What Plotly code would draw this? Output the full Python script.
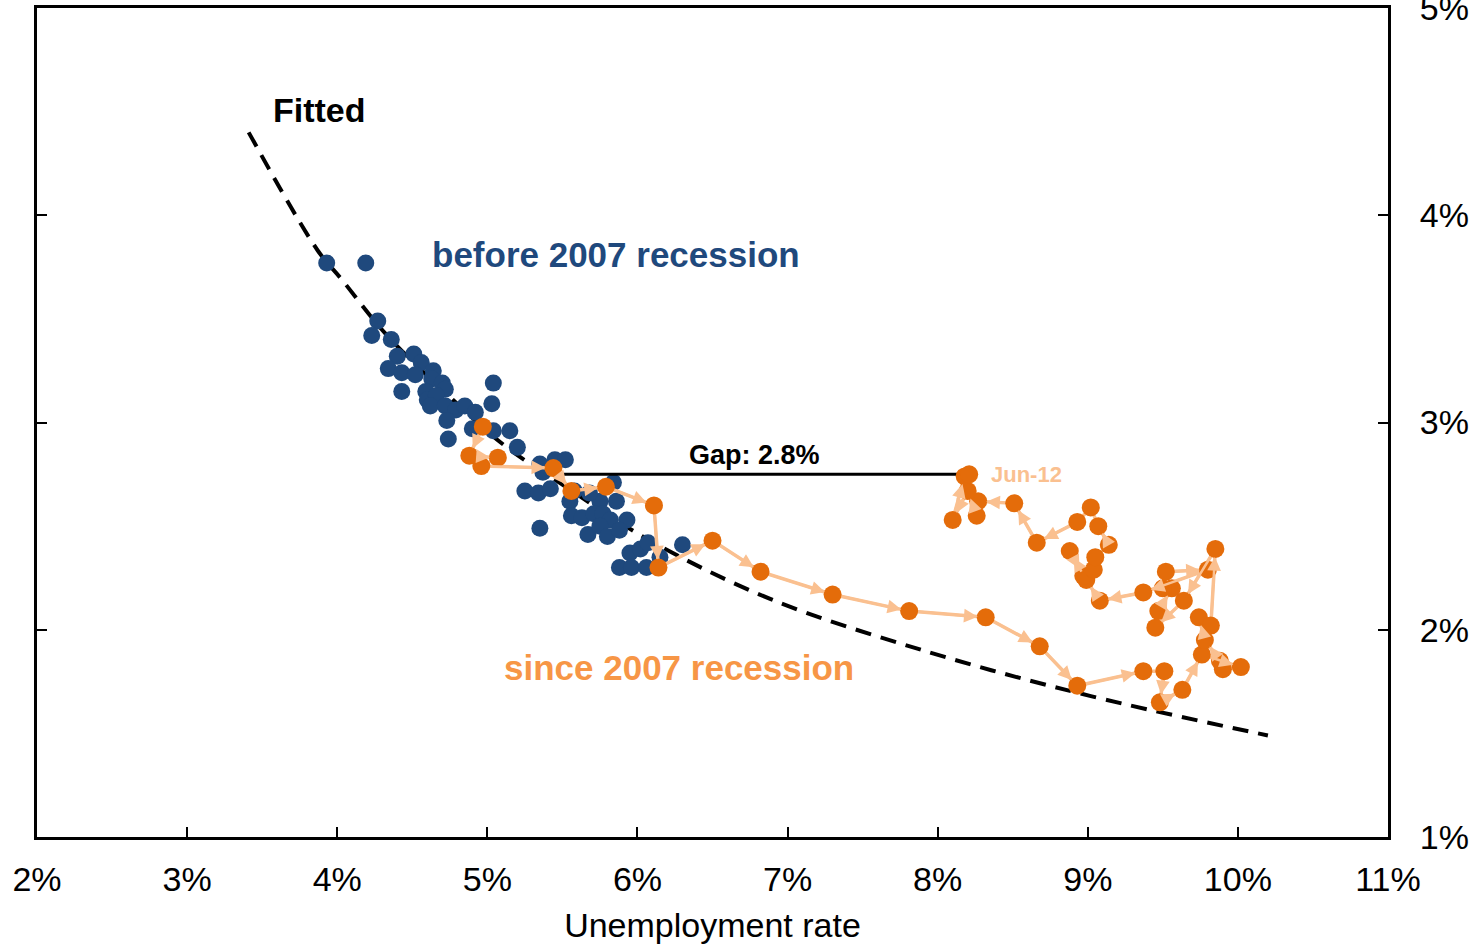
import plotly.graph_objects as go

# ---------------- data ----------------
# pre-2007 observations: unemployment rate (%), y value (%)
before_x = [3.93, 4.19, 4.27, 4.23, 4.36, 4.40, 4.51, 4.56, 4.34, 4.43, 4.64, 4.52, 4.63, 4.70,
            4.43, 4.59, 4.72, 4.60, 4.66, 4.62, 4.72, 4.79, 4.85, 4.92, 5.04, 5.03, 4.73, 4.74,
            4.90, 5.04, 5.15, 5.20, 5.35, 5.45, 5.52, 5.37, 5.25, 5.34, 5.42, 5.35, 5.58, 5.55,
            5.84, 5.86, 5.75, 5.68, 5.56, 5.63, 5.71, 5.77, 5.82, 5.93, 5.67, 5.75, 5.80, 5.88,
            5.95, 6.02, 6.07, 5.88, 5.96, 6.06, 6.15, 6.30]
before_y = [3.77, 3.77, 3.49, 3.42, 3.40, 3.32, 3.33, 3.29, 3.26, 3.24, 3.25, 3.23, 3.21, 3.19,
            3.15, 3.15, 3.16, 3.11, 3.13, 3.08, 3.08, 3.06, 3.08, 3.05, 3.19, 3.09, 3.01, 2.92,
            2.97, 2.96, 2.96, 2.88, 2.80, 2.82, 2.82, 2.76, 2.67, 2.66, 2.68, 2.49, 2.67, 2.62,
            2.71, 2.62, 2.62, 2.66, 2.55, 2.54, 2.56, 2.56, 2.53, 2.53, 2.46, 2.50, 2.45, 2.48,
            2.37, 2.39, 2.42, 2.30, 2.30, 2.30, 2.35, 2.41]

# since the 2007 recession, monthly Jan-08 .. Jun-12 (chronological)
since_x = [4.97, 4.88, 5.07, 4.96, 5.44, 5.56, 5.79, 6.11, 6.14, 6.50, 6.82, 7.30,
           7.81, 8.32, 8.68, 8.93, 9.37, 9.51, 9.48, 9.63, 9.76, 10.02, 9.90, 9.88,
           9.78, 9.74, 9.82, 9.85, 9.64, 9.45, 9.47, 9.56, 9.50, 9.52, 9.80, 9.37,
           9.08, 8.99, 8.88, 8.97, 9.04, 9.05, 9.14, 9.07, 9.02, 8.93, 8.66, 8.51,
           8.27, 8.26, 8.20, 8.10, 8.18, 8.21]
since_y = [2.98, 2.84, 2.83, 2.79, 2.78, 2.67, 2.69, 2.60, 2.30, 2.43, 2.28, 2.17,
           2.09, 2.06, 1.92, 1.73, 1.80, 1.80, 1.65, 1.71, 1.88, 1.82, 1.81, 1.85,
           1.95, 2.06, 2.02, 2.39, 2.14, 2.01, 2.09, 2.20, 2.20, 2.28, 2.29, 2.18,
           2.14, 2.24, 2.38, 2.26, 2.29, 2.35, 2.41, 2.50, 2.59, 2.52, 2.42, 2.61,
           2.62, 2.55, 2.67, 2.53, 2.74, 2.75]

# fitted curve, points
fit_x = [3.41, 3.87, 4.03, 4.32, 4.77, 5.13, 5.48, 6.06, 6.88, 7.95, 9.02, 10.20]
fit_y = [4.40, 3.83, 3.69, 3.43, 3.11, 2.88, 2.71, 2.44, 2.15, 1.89, 1.68, 1.49]

# gap line
gap_x = [5.44, 8.21]
gap_y = [2.75, 2.75]

x_ticks = [2, 3, 4, 5, 6, 7, 8, 9, 10, 11]
x_tick_labels = ["2%", "3%", "4%", "5%", "6%", "7%", "8%", "9%", "10%", "11%"]
y_ticks = [1, 2, 3, 4, 5]
y_tick_labels = ["1%", "2%", "3%", "4%", "5%"]

BLUE = "#1F497D"
ORANGE = "#E46C0A"
LIGHT = "#FAC090"
TEXT_ORANGE = "#F79646"
FONT = "Liberation Sans, Arial, sans-serif"

fig = go.Figure()

fig.add_trace(go.Scatter(x=fit_x, y=fit_y, mode="lines", line_shape="spline",
                         line=dict(color="black", width=4, dash="16px,10px"),
                         hoverinfo="skip", showlegend=False))

fig.add_trace(go.Scatter(x=before_x, y=before_y, mode="markers",
                         marker=dict(color=BLUE, size=17, line=dict(width=0)),
                         showlegend=False))

fig.add_trace(go.Scatter(x=since_x, y=since_y, mode="lines",
                         line=dict(color=LIGHT, width=3.5),
                         showlegend=False, hoverinfo="skip"))

fig.add_trace(go.Scatter(x=gap_x, y=gap_y, mode="lines",
                         line=dict(color="black", width=3),
                         showlegend=False, hoverinfo="skip"))

fig.add_trace(go.Scatter(x=since_x, y=since_y, mode="markers",
                         marker=dict(color=ORANGE, size=18, line=dict(width=0)),
                         showlegend=False))

annotations = []
for i in range(1, len(since_x)):
    annotations.append(dict(
        x=since_x[i], y=since_y[i], ax=since_x[i - 1], ay=since_y[i - 1],
        xref="x", yref="y", axref="x", ayref="y", text="",
        showarrow=True, arrowhead=2, arrowsize=1.1, arrowwidth=2.5,
        arrowcolor=LIGHT, standoff=8, startstandoff=8))

annotations += [
    dict(x=3.88, y=4.51, xref="x", yref="y", text="<b>Fitted</b>", showarrow=False,
         font=dict(family=FONT, size=34, color="black")),
    dict(x=5.86, y=3.81, xref="x", yref="y", text="<b>before 2007 recession</b>",
         showarrow=False, font=dict(family=FONT, size=35, color=BLUE)),
    dict(x=6.28, y=1.82, xref="x", yref="y", text="<b>since 2007 recession</b>",
         showarrow=False, font=dict(family=FONT, size=35, color=TEXT_ORANGE)),
    dict(x=6.78, y=2.845, xref="x", yref="y", text="<b>Gap: 2.8%</b>",
         showarrow=False, font=dict(family=FONT, size=27, color="black")),
    dict(x=8.595, y=2.747, xref="x", yref="y", text="<b>Jun-12</b>",
         showarrow=False, font=dict(family=FONT, size=22, color=LIGHT)),
]

fig.update_layout(
    width=1479, height=944,
    margin=dict(l=37, r=91, t=8, b=107, autoexpand=False),
    paper_bgcolor="white", plot_bgcolor="white",
    font=dict(family=FONT, size=34, color="black"),
    annotations=annotations,
    showlegend=False,
)

fig.update_xaxes(range=[2, 11], tickvals=x_ticks, ticktext=x_tick_labels,
                 showgrid=False, zeroline=False, showline=True, linecolor="black",
                 linewidth=3, mirror=True, ticks="inside", ticklen=10, tickwidth=2,
                 tickcolor="black", ticklabelstandoff=10, automargin=False,
                 ticklabeloverflow="allow",
                 tickfont=dict(family=FONT, size=34, color="black"),
                 title=dict(text="Unemployment rate", standoff=18,
                            font=dict(family=FONT, size=34, color="black")))

fig.update_yaxes(range=[1, 5], tickvals=y_ticks, ticktext=y_tick_labels, side="right",
                 showgrid=False, zeroline=False, showline=True, linecolor="black",
                 linewidth=3, mirror="ticks", ticks="inside", ticklen=10, tickwidth=2,
                 tickcolor="black", ticklabelstandoff=22, automargin=False,
                 ticklabeloverflow="allow",
                 tickfont=dict(family=FONT, size=34, color="black"))

fig.write_html("out.html",
               config={"displayModeBar": False},
               post_script="document.body.style.margin='0px';"
                           "document.body.style.overflow='hidden';")
